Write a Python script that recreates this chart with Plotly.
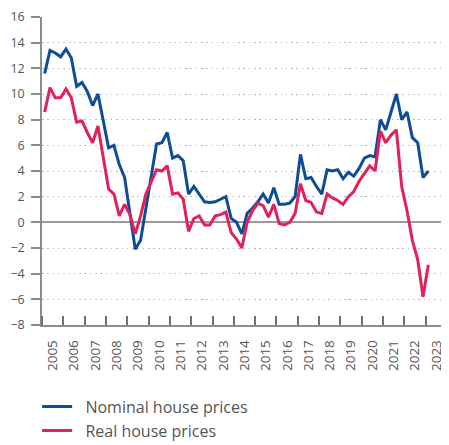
import plotly.graph_objects as go

years = list(range(2005, 2024))
quarters = [(y, q) for y in years for q in (1, 2, 3, 4)][:73]  # 2005Q1 .. 2023Q1

nominal = [
    11.6, 13.4, 13.2, 12.9,
    13.5, 12.8, 10.6, 10.9,
    10.2, 9.1, 10.0, 7.9,
    5.8, 6.0, 4.5, 3.5,
    0.6, -2.1, -1.4, 1.0,
    3.6, 6.1, 6.2, 7.0,
    5.0, 5.2, 4.8, 2.2,
    2.8, 2.2, 1.6, 1.55,
    1.6, 1.8, 2.0, 0.3,
    0.0, -0.9, 0.7, 1.1,
    1.6, 2.2, 1.5, 2.7,
    1.4, 1.4, 1.5, 2.0,
    5.3, 3.4, 3.5, 2.8,
    2.2, 4.1, 4.0, 4.1,
    3.4, 3.9, 3.6, 4.2,
    5.0, 5.2, 5.1, 8.0,
    7.2, 8.6, 10.0, 8.0,
    8.6, 6.6, 6.2, 3.5,
    4.0,
]

real = [
    8.6, 10.5, 9.7, 9.7,
    10.4, 9.7, 7.8, 7.9,
    7.0, 6.2, 7.5, 5.0,
    2.6, 2.2, 0.5, 1.4,
    0.6, -0.9, 0.5, 2.2,
    3.1, 4.1, 4.0, 4.4,
    2.2, 2.3, 1.8, -0.7,
    0.3, 0.5, -0.2, -0.2,
    0.5, 0.6, 0.8, -0.8,
    -1.3, -2.0, 0.0, 0.9,
    1.5, 1.3, 0.4, 1.4,
    -0.1, -0.2, 0.0, 0.7,
    3.0, 1.7, 1.55, 0.8,
    0.7, 2.2, 1.9, 1.7,
    1.4, 2.0, 2.4, 3.2,
    3.8, 4.4, 4.0, 7.1,
    6.2, 6.8, 7.2, 2.8,
    0.9, -1.4, -2.9, -5.8,
    -3.3,
]

series_names = ["Nominal house prices", "Real house prices"]
tick_labels = [str(y) for y in years]
y_ticks = list(range(-8, 17, 2))

x = [y + (q - 0.5) / 4 for (y, q) in quarters]

BLUE = "#0E4C96"
RED = "#E2215A"
GREY_TXT = "#555555"
FONT = "Open Sans"
PAD = "\u00a0\u00a0"  # widen gap between legend line and text

fig = go.Figure()
fig.add_trace(go.Scatter(x=x, y=nominal, mode="lines", name=PAD + series_names[0],
                         line=dict(color=BLUE, width=3)))
fig.add_trace(go.Scatter(x=x, y=real, mode="lines", name=PAD + series_names[1],
                         line=dict(color=RED, width=3)))

# page body has an 8px default margin -> figure is 8px smaller and offset
fig.update_layout(
    width=441, height=437,
    margin=dict(l=34, r=2, t=9, b=120, autoexpand=False),
    paper_bgcolor="white", plot_bgcolor="white",
    font=dict(family=FONT, color=GREY_TXT, size=13),
    showlegend=True,
    legend=dict(orientation="v", x=-0.012, y=-0.21, xanchor="left", yanchor="top",
                font=dict(size=16, color=GREY_TXT), bgcolor="rgba(0,0,0,0)",
                itemwidth=30, tracegroupgap=0),
)

fig.update_xaxes(
    range=[2005, 2024], automargin=False,
    tickmode="array", tickvals=[y + 0.5 for y in years], ticktext=tick_labels,
    tickangle=-90, ticks="", ticklabelstandoff=8,
    tickfont=dict(size=13.5, color=GREY_TXT),
    showgrid=False, zeroline=False,
    showline=True, linecolor="#8c8c8c", linewidth=1.5,
    minor=dict(tickmode="linear", tick0=2005, dtick=1, ticks="inside",
               ticklen=9, tickcolor="#6e6e6e", tickwidth=1.5, showgrid=False),
)

fig.update_yaxes(
    range=[-8, 16], automargin=False, tickmode="array", tickvals=y_ticks,
    ticks="outside", ticklen=9, tickcolor="#8c8c8c", tickwidth=1.5,
    ticklabelstandoff=4, ticklabeloverflow="allow",
    tickfont=dict(size=12.5, color=GREY_TXT),
    showline=True, linecolor="#8c8c8c", linewidth=1.5,
    showgrid=True, gridcolor="#b5b5b5", gridwidth=1, griddash="1.5px,3.8px",
    zeroline=True, zerolinecolor="#999999", zerolinewidth=1.5,
)

fig.write_html("out.html")
